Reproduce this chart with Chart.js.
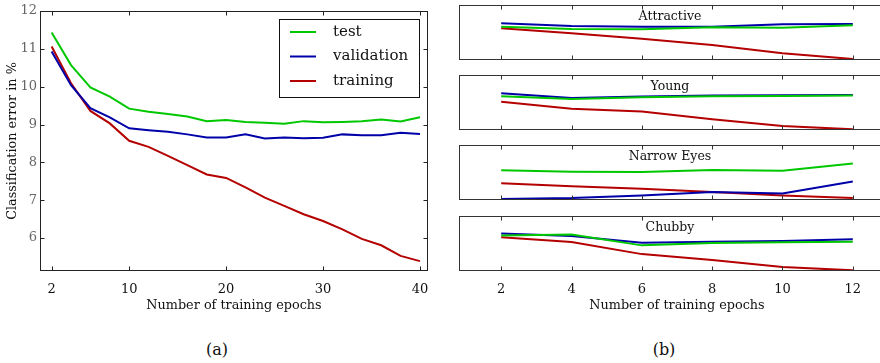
<!DOCTYPE html>
<html>
<head>
<meta charset="utf-8">
<script src="https://cdn.jsdelivr.net/npm/chart.js@4.4.1/dist/chart.umd.min.js"></script>
<style>
  body { margin: 0; width: 880px; height: 363px; overflow: hidden; background: #fff; position: relative; font-family: 'DejaVu Serif', serif; }
  canvas { position: absolute; }
  #right { position: absolute; left: 450px; top: 0; width: 430px; height: 363px; overflow: hidden; }
  .cap { position: absolute; font-size: 16px; transform: translate(-50%, -50%); color: #111; }
</style>
</head>
<body>
<canvas id="left" width="450" height="320" style="left:0px;top:0px"></canvas>
<div id="right">
  <canvas id="p0" width="450" height="65" style="left:0px;top:0px"></canvas>
  <canvas id="p1" width="450" height="65" style="left:0px;top:70px"></canvas>
  <canvas id="p2" width="450" height="65" style="left:0px;top:140px"></canvas>
  <canvas id="p3" width="450" height="109" style="left:0px;top:211px"></canvas>
</div>
<div class="cap" style="left:217px;top:349px">(a)</div>
<div class="cap" style="left:664px;top:349px">(b)</div>

<script>
// ----- data (a): error vs epochs -----
const epochsA = [2, 4, 6, 8, 10, 12, 14, 16, 18, 20, 22, 24, 26, 28, 30, 32, 34, 36, 38, 40];
const testA = [11.43, 10.57, 9.98, 9.74, 9.42, 9.34, 9.28, 9.21, 9.09, 9.12, 9.07, 9.05, 9.02, 9.09, 9.06, 9.07, 9.09, 9.13, 9.08, 9.19];
const validA = [10.93, 10.04, 9.43, 9.19, 8.90, 8.85, 8.81, 8.74, 8.66, 8.66, 8.74, 8.63, 8.66, 8.64, 8.65, 8.74, 8.72, 8.72, 8.78, 8.75];
const trainA = [11.06, 10.09, 9.36, 9.03, 8.57, 8.41, 8.17, 7.93, 7.68, 7.59, 7.34, 7.07, 6.85, 6.63, 6.45, 6.23, 5.98, 5.81, 5.53, 5.39];
const ticksXA = [2, 10, 20, 30, 40];
const ticksYA = [6, 7, 8, 9, 10, 11, 12];

// ----- data (b): per attribute, relative error (no scale shown) -----
const epochsB = [2, 4, 6, 8, 10, 12];
const ticksXB = [2, 4, 6, 8, 10, 12];
const attributes = ['Attractive', 'Young', 'Narrow Eyes', 'Chubby'];
const attractiveTest = [0.606, 0.565, 0.560, 0.594, 0.588, 0.630];
const attractiveValid = [0.667, 0.618, 0.606, 0.606, 0.648, 0.655];
const attractiveTrain = [0.576, 0.485, 0.388, 0.273, 0.121, 0.018];
const youngTest = [0.613, 0.564, 0.595, 0.613, 0.620, 0.626];
const youngValid = [0.669, 0.583, 0.607, 0.626, 0.632, 0.638];
const youngTrain = [0.515, 0.387, 0.337, 0.196, 0.074, 0.012];
const narrowTest = [0.539, 0.515, 0.509, 0.545, 0.533, 0.665];
const narrowValid = [0.018, 0.036, 0.084, 0.144, 0.120, 0.335];
const narrowTrain = [0.305, 0.251, 0.204, 0.144, 0.084, 0.036];
const chubbyTest = [0.644, 0.663, 0.466, 0.509, 0.521, 0.534];
const chubbyValid = [0.681, 0.638, 0.515, 0.534, 0.546, 0.577];
const chubbyTrain = [0.613, 0.528, 0.307, 0.202, 0.074, 0.012];
const panelData = [
  [attractiveTest, attractiveValid, attractiveTrain],
  [youngTest, youngValid, youngTrain],
  [narrowTest, narrowValid, narrowTrain],
  [chubbyTest, chubbyValid, chubbyTrain],
];

const GREEN = '#00c800';
const BLUE = '#0000a8';
const RED = '#b40000';
const FONT = '"DejaVu Serif", serif';

Chart.defaults.font.family = FONT;
Chart.defaults.color = '#111';

// frame with inward ticks, optional title and legend box
const framePlugin = {
  id: 'frame',
  afterDatasetsDraw(chart, args, o) {
    const { ctx, chartArea: a, scales } = chart;
    const x = scales.x, y = scales.y;
    ctx.save();
    ctx.strokeStyle = o.color || '#222';
    ctx.lineWidth = 1;
    const L = Math.round(a.left) + 0.5, R = Math.round(a.right) - 0.5;
    const T = Math.round(a.top) + 0.5, B = Math.round(a.bottom) - 0.5;
    ctx.strokeRect(L, T, R - L, B - T);
    ctx.beginPath();
    (o.xTicks || []).forEach(v => {
      const px = Math.round(x.getPixelForValue(v)) + 0.5;
      ctx.moveTo(px, B); ctx.lineTo(px, B - 4);
      ctx.moveTo(px, T); ctx.lineTo(px, T + 4);
    });
    (o.yTicks || []).forEach(v => {
      const py = Math.round(y.getPixelForValue(v)) + 0.5;
      ctx.moveTo(L, py); ctx.lineTo(L + 4, py);
      ctx.moveTo(R, py); ctx.lineTo(R - 4, py);
    });
    ctx.stroke();

    if (o.title) {
      ctx.fillStyle = '#111';
      ctx.font = '12.5px ' + FONT;
      ctx.textAlign = 'center';
      ctx.textBaseline = 'middle';
      ctx.fillText(o.title, x.getPixelForValue(o.titleAt), a.top + 12);
    }

    if (o.legend) {
      const g = o.legend;
      ctx.fillStyle = '#fff';
      ctx.fillRect(g.x, g.y, g.w, g.h);
      ctx.strokeStyle = '#111';
      ctx.strokeRect(g.x + 0.5, g.y + 0.5, g.w, g.h);
      ctx.font = '15px ' + FONT;
      ctx.textAlign = 'left';
      ctx.textBaseline = 'middle';
      chart.data.datasets.forEach((ds, i) => {
        const ly = g.y + 13 + i * 24.5;
        ctx.strokeStyle = ds.borderColor;
        ctx.lineWidth = 2;
        ctx.beginPath();
        ctx.moveTo(g.x + 11, ly); ctx.lineTo(g.x + 37, ly);
        ctx.stroke();
        ctx.fillStyle = '#111';
        ctx.fillText(ds.label, g.x + 54, ly);
      });
    }
    ctx.restore();
  }
};

function lineSet(label, xs, ys, color) {
  return {
    label: label,
    data: xs.map((v, i) => ({ x: v, y: ys[i] })),
    borderColor: color,
    borderWidth: 2,
    pointRadius: 0,
    tension: 0,
    fill: false,
  };
}

function xAxis(min, max, ticks, show) {
  return {
    type: 'linear',
    min: min,
    max: max,
    display: show,
    afterBuildTicks: s => { s.ticks = ticks.map(v => ({ value: v })); },
    afterFit: s => { s.height = show ? 49 : 0; },
    grid: { display: false, drawTicks: false },
    border: { display: false },
    ticks: { font: { size: 13 }, color: '#111', padding: 11, maxRotation: 0, autoSkip: false },
    title: { display: true, text: 'Number of training epochs', font: { size: 12.8 }, color: '#111', padding: { top: 0, bottom: 7 } },
  };
}

// ----- chart (a) -----
new Chart(document.getElementById('left'), {
  type: 'line',
  data: {
    datasets: [
      lineSet('test', epochsA, testA, GREEN),
      lineSet('validation', epochsA, validA, BLUE),
      lineSet('training', epochsA, trainA, RED),
    ],
  },
  options: {
    responsive: false,
    animation: false,
    layout: { padding: { top: 11, right: 22, left: 0, bottom: 0 } },
    plugins: {
      legend: { display: false },
      tooltip: { enabled: false },
      frame: { xTicks: ticksXA, yTicks: ticksYA, color: '#222', legend: { x: 279, y: 19, w: 140, h: 78 } },
    },
    scales: {
      x: xAxis(0.8, 40.83, ticksXA, true),
      y: {
        min: 5.13,
        max: 12,
        afterBuildTicks: s => { s.ticks = ticksYA.map(v => ({ value: v })); },
        afterFit: s => { s.width = 40; },
        grid: { display: false, drawTicks: false },
        border: { display: false },
        ticks: { font: { size: 13 }, color: '#666', padding: 3 },
        title: { display: true, text: 'Classification error in %', font: { size: 12.8 }, color: '#111', padding: { top: 5, bottom: 0 } },
      },
    },
  },
  plugins: [framePlugin],
});

// ----- chart (b) -----
attributes.forEach((name, k) => {
  const last = k === attributes.length - 1;
  const d = panelData[k];
  new Chart(document.getElementById('p' + k), {
    type: 'line',
    data: {
      datasets: [
        lineSet('test', epochsB, d[0], GREEN),
        lineSet('validation', epochsB, d[1], BLUE),
        lineSet('training', epochsB, d[2], RED),
      ],
    },
    options: {
      responsive: false,
      animation: false,
      layout: { padding: { top: 5, right: 5, left: 9, bottom: last ? 0 : 5 } },
      plugins: {
        legend: { display: false },
        tooltip: { enabled: false },
        frame: { xTicks: ticksXB, color: '#333', title: name, titleAt: 6.8 },
      },
      scales: {
        x: xAxis(0.8, 13.2, ticksXB, last),
        y: { min: 0, max: 1, display: false, afterFit: s => { s.width = 0; } },
      },
    },
    plugins: [framePlugin],
  });
});
</script>
</body>
</html>
